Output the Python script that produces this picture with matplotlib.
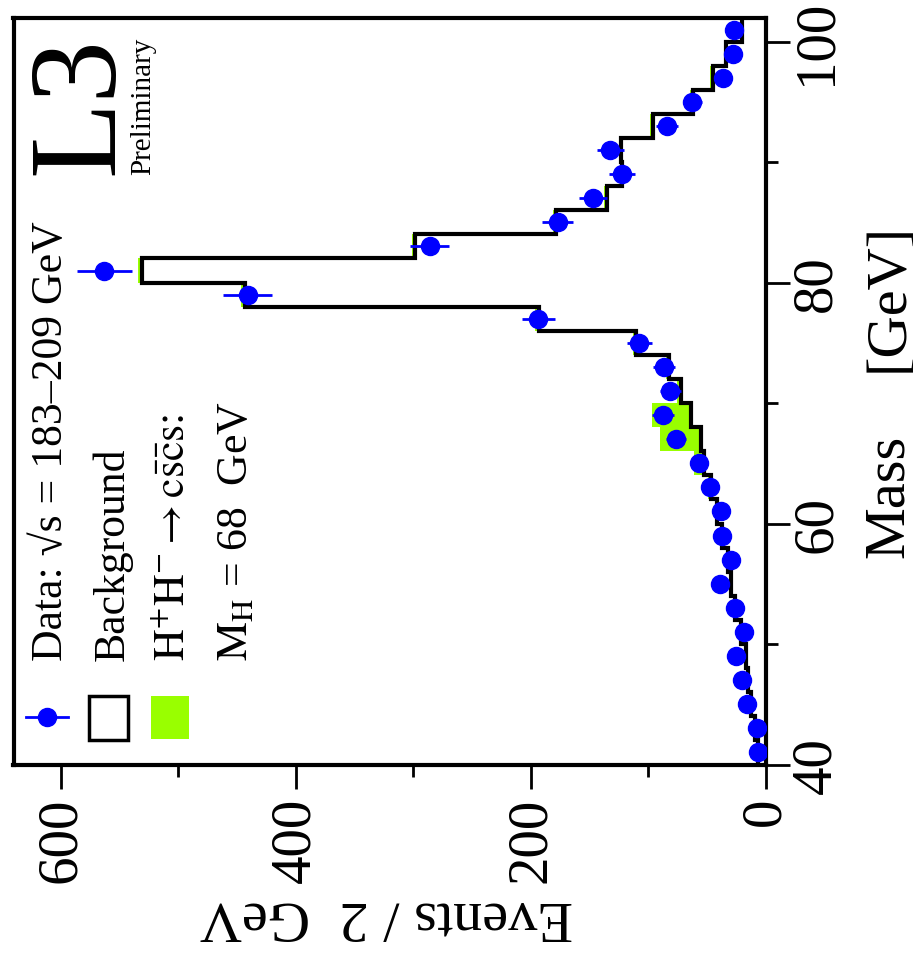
import numpy as np
import matplotlib
matplotlib.use('Agg')
import matplotlib.pyplot as plt
from matplotlib.lines import Line2D
from matplotlib.patches import Rectangle
from matplotlib.ticker import MultipleLocator

plt.rcParams['font.family'] = ['Liberation Serif', 'DejaVu Serif']
plt.rcParams['mathtext.fontset'] = 'stix'

# 2 GeV bins from 40 to 102 GeV
edges = [40, 42, 44, 46, 48, 50, 52, 54, 56, 58, 60, 62, 64, 66, 68, 70,
         72, 74, 76, 78, 80, 82, 84, 86, 88, 90, 92, 94, 96, 98, 100, 102]
mass = [41, 43, 45, 47, 49, 51, 53, 55, 57, 59, 61, 63, 65, 67, 69, 71,
        73, 75, 77, 79, 81, 83, 85, 87, 89, 91, 93, 95, 97, 99, 101]

background = [6, 9, 12, 15, 17, 21, 26, 29, 32, 37, 41, 46, 52, 55, 63, 72,
              82, 110, 193, 443, 531, 298, 178, 135, 122, 123, 96, 62, 45, 34, 20]
signal = [0, 0, 0, 0, 0, 1, 1, 1, 1, 1, 1.5, 3, 8.5, 35, 34, 3,
          3, 3, 3, 3, 3, 2.5, 2.5, 2.5, 2, 2, 2, 2, 2, 1.5, 1]
data = [6.6, 7.5, 15.5, 20.2, 25.3, 18.3, 25.9, 38.7, 29.3, 37.3, 38.1, 47.2,
        56.6, 76.4, 86.9, 81.2, 86.1, 107.3, 193.2, 440.7, 562.6, 285.9, 177,
        147, 121.8, 132.3, 84, 62.3, 35.9, 27.9, 26.5]
data_err = [2.6, 2.7, 3.9, 4.5, 5.0, 4.3, 5.1, 6.2, 5.4, 6.1, 6.2, 6.9, 7.5,
            8.7, 9.3, 9.0, 9.3, 10.4, 13.9, 21.0, 23.7, 16.9, 13.3, 12.1,
            11.0, 11.5, 9.2, 7.9, 6.0, 5.3, 5.1]

green = '#99ff00'
W, H = 913, 962


def fx(px):
    return px / W


def fy(py):
    return 1 - py / H


fig = plt.figure(figsize=(W / 100, H / 100), dpi=100)
ax = fig.add_axes([fx(13.5), fy(765.5), fx(765.5) - fx(13.5), fy(18.5) - fy(765.5)])

bg = np.array(background)
sig = np.array(signal)
ax.stairs(bg + sig, edges, baseline=bg, fill=True, orientation='horizontal',
          color=green, lw=0, zorder=1)
ax.stairs(bg, edges, baseline=None, orientation='horizontal',
          color='black', lw=3, zorder=2)
ax.errorbar(data, mass, xerr=data_err, fmt='o', color='blue', ms=13,
            elinewidth=2, capsize=0, zorder=3)

ax.set_xlim(640, 0)
ax.set_ylim(40, 102)
ax.xaxis.set_major_locator(MultipleLocator(200))
ax.xaxis.set_minor_locator(MultipleLocator(100))
ax.yaxis.set_major_locator(MultipleLocator(20))
ax.yaxis.set_minor_locator(MultipleLocator(10))
ax.yaxis.tick_right()
ax.tick_params(which='both', direction='out', width=2, top=False, left=False,
               right=True, bottom=True, labelsize=41, labelrotation=90)
ax.tick_params(which='major', length=17)
ax.tick_params(which='minor', length=8.6)
ax.tick_params(axis='x', pad=6)
ax.tick_params(axis='y', pad=1)
plt.setp(ax.get_yticklabels(), va='center')
for s in ax.spines.values():
    s.set_linewidth(3)

# axis titles (figure is drawn turned by 90 degrees)
kw = dict(rotation=90, rotation_mode='anchor', ha='left', va='baseline')
fig.text(fx(903), fy(558), 'Mass', fontsize=42, **kw)
fig.text(fx(903), fy(372), '[GeV]', fontsize=42, **kw)
fig.text(fx(573), fy(902), 'Events / 2  GeV', fontsize=42, rotation=180,
         rotation_mode='anchor', ha='left', va='baseline')

# L3 logo
fig.text(fx(112), fy(175), 'L3', fontsize=90, **kw)
fig.text(fx(150), fy(175), 'Preliminary', fontsize=21, **kw)

# legend
fig.text(fx(62), fy(661), 'Data: \u221as = 183\u2013209 GeV', fontsize=31.5, **kw)
fig.text(fx(123.5), fy(661), 'Background', fontsize=31.5, **kw)
fig.text(fx(185), fy(661), r'$\mathrm{H^{+}H^{-}\rightarrow c\bar{s}\bar{c}s}$:',
         fontsize=31.5, **kw)
fig.text(fx(246.5), fy(661), r'$\mathrm{M_{H}}$ = 68  GeV', fontsize=31.5, **kw)

fig.add_artist(Line2D([fx(25.7), fx(67.7)], [fy(718.3), fy(718.3)],
                      transform=fig.transFigure, color='blue', lw=2))
fig.add_artist(Line2D([fx(46.7)], [fy(718.3)], transform=fig.transFigure,
                      marker='o', ms=13, color='blue'))
fig.add_artist(Rectangle((fx(89), fy(740.7)), fx(128) - fx(89), fy(696.7) - fy(740.7),
                         transform=fig.transFigure, fill=False, ec='black', lw=2.5))
fig.add_artist(Rectangle((fx(151), fy(740)), fx(189) - fx(151), fy(697) - fy(740),
                         transform=fig.transFigure, color=green, lw=0))

fig.savefig('out.png', dpi=100)
